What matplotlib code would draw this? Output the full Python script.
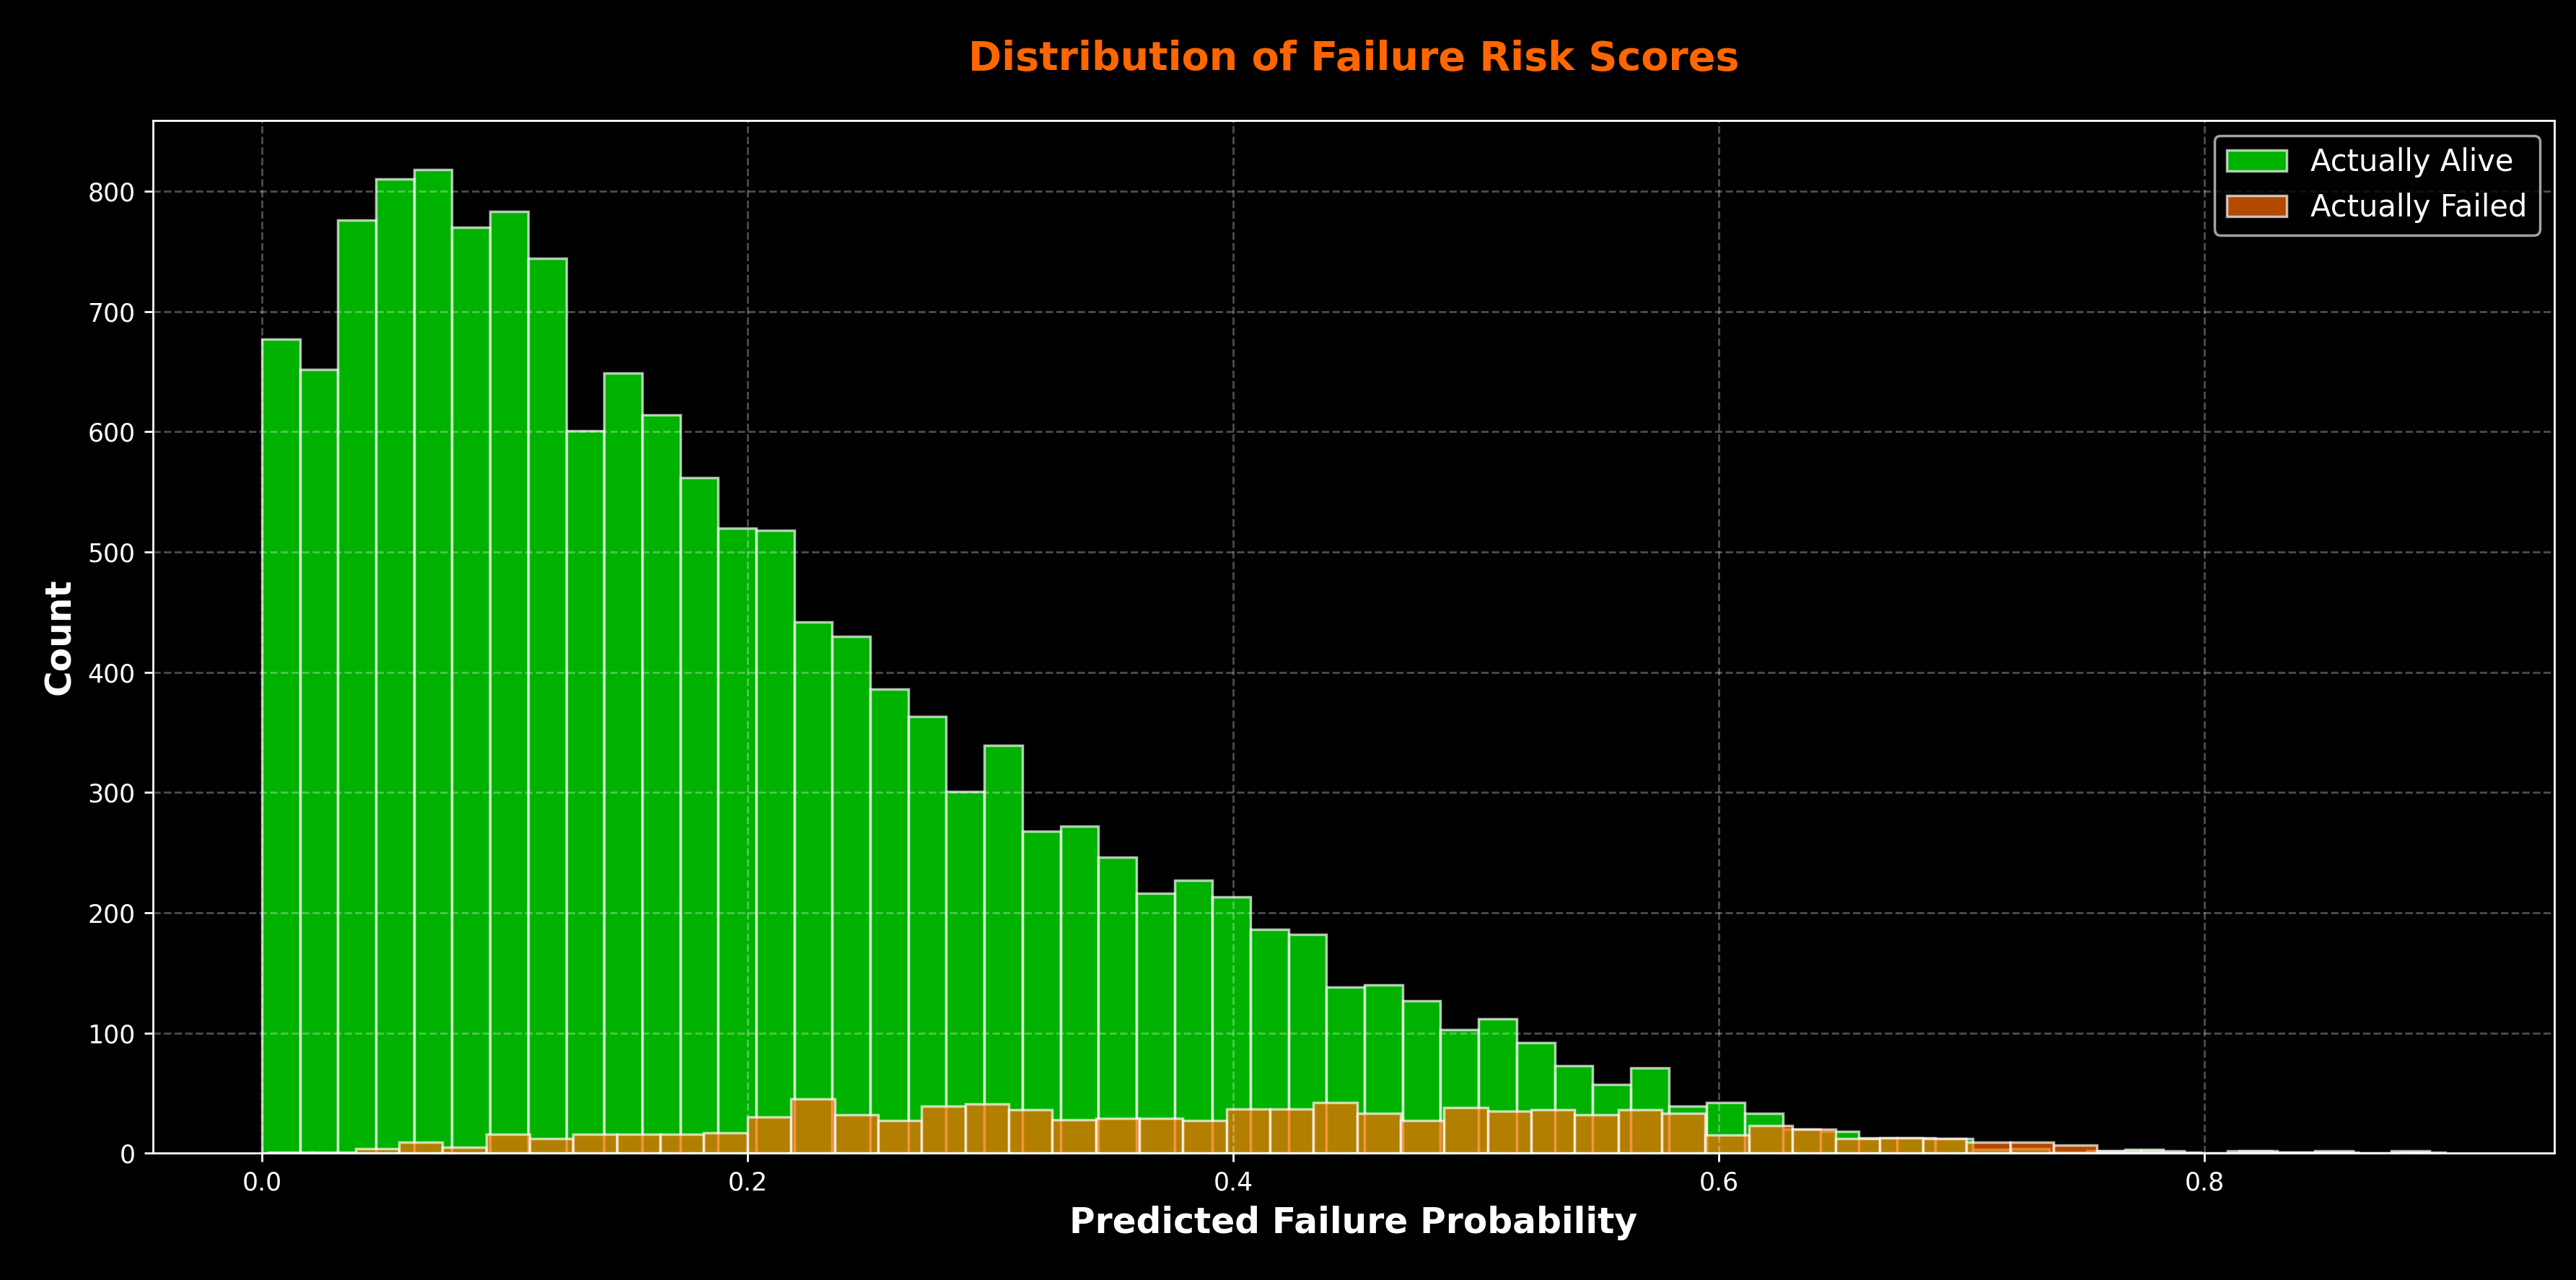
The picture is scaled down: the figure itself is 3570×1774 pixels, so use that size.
import matplotlib

matplotlib.use("Agg")

import matplotlib.pyplot as plt  # noqa: E402
import numpy as np  # noqa: E402

# counts per bin
alive_counts = [
    677, 652, 776, 810, 818, 770, 783, 744, 601, 649,
    614, 562, 520, 518, 442, 430, 386, 363, 301, 339,
    268, 272, 246, 216, 227, 213, 186, 182, 138, 140,
    127, 103, 112, 92, 73, 57, 71, 39, 42, 33,
    20, 18, 13, 13, 12, 3, 4, 1, 2, 3,
    1, 0, 2, 1, 2, 0, 2,
]
failed_counts = [
    1, 1, 4, 9, 5, 16, 12, 16, 16, 16,
    17, 30, 45, 32, 27, 39, 41, 36, 28, 29,
    29, 27, 37, 37, 42, 33, 27, 38, 35, 36,
    32, 36, 33, 15, 23, 20, 12, 13, 12, 9,
    9, 7, 2, 2, 0, 2, 1, 1, 0, 1,
]
alive_range = (0.0, 0.8925)
failed_range = (0.0027, 0.0027 + 50 * 0.01793)

alive_edges = np.linspace(*alive_range, len(alive_counts) + 1)
failed_edges = np.linspace(*failed_range, len(failed_counts) + 1)

plt.style.use("dark_background")
fig = plt.figure(figsize=(14.28, 7.096), dpi=250)
fig.patch.set_facecolor("black")
ax = fig.add_axes([0.0593, 0.099, 0.9324, 0.807])
ax.set_facecolor("black")

ax.hist(alive_edges[:-1], bins=alive_edges, weights=alive_counts,
        color="#00ff00", alpha=0.7, edgecolor="white", linewidth=1.0,
        label="Actually Alive")
ax.hist(failed_edges[:-1], bins=failed_edges, weights=failed_counts,
        color="#ff6a00", alpha=0.7, edgecolor="white", linewidth=1.0,
        label="Actually Failed")

ax.set_xlabel("Predicted Failure Probability", fontsize=14, fontweight="bold")
ax.set_ylabel("Count", fontsize=14, fontweight="bold")
ax.set_title("Distribution of Failure Risk Scores", fontsize=16,
             fontweight="bold", color="#ff6600", pad=20)
ax.tick_params(labelsize=10)
ax.grid(True, linestyle="--", alpha=0.3, color="white")
ax.set_axisbelow(False)
ax.legend(fontsize=12, loc="upper right")

fig.savefig("out.png", dpi=250, facecolor="black")
